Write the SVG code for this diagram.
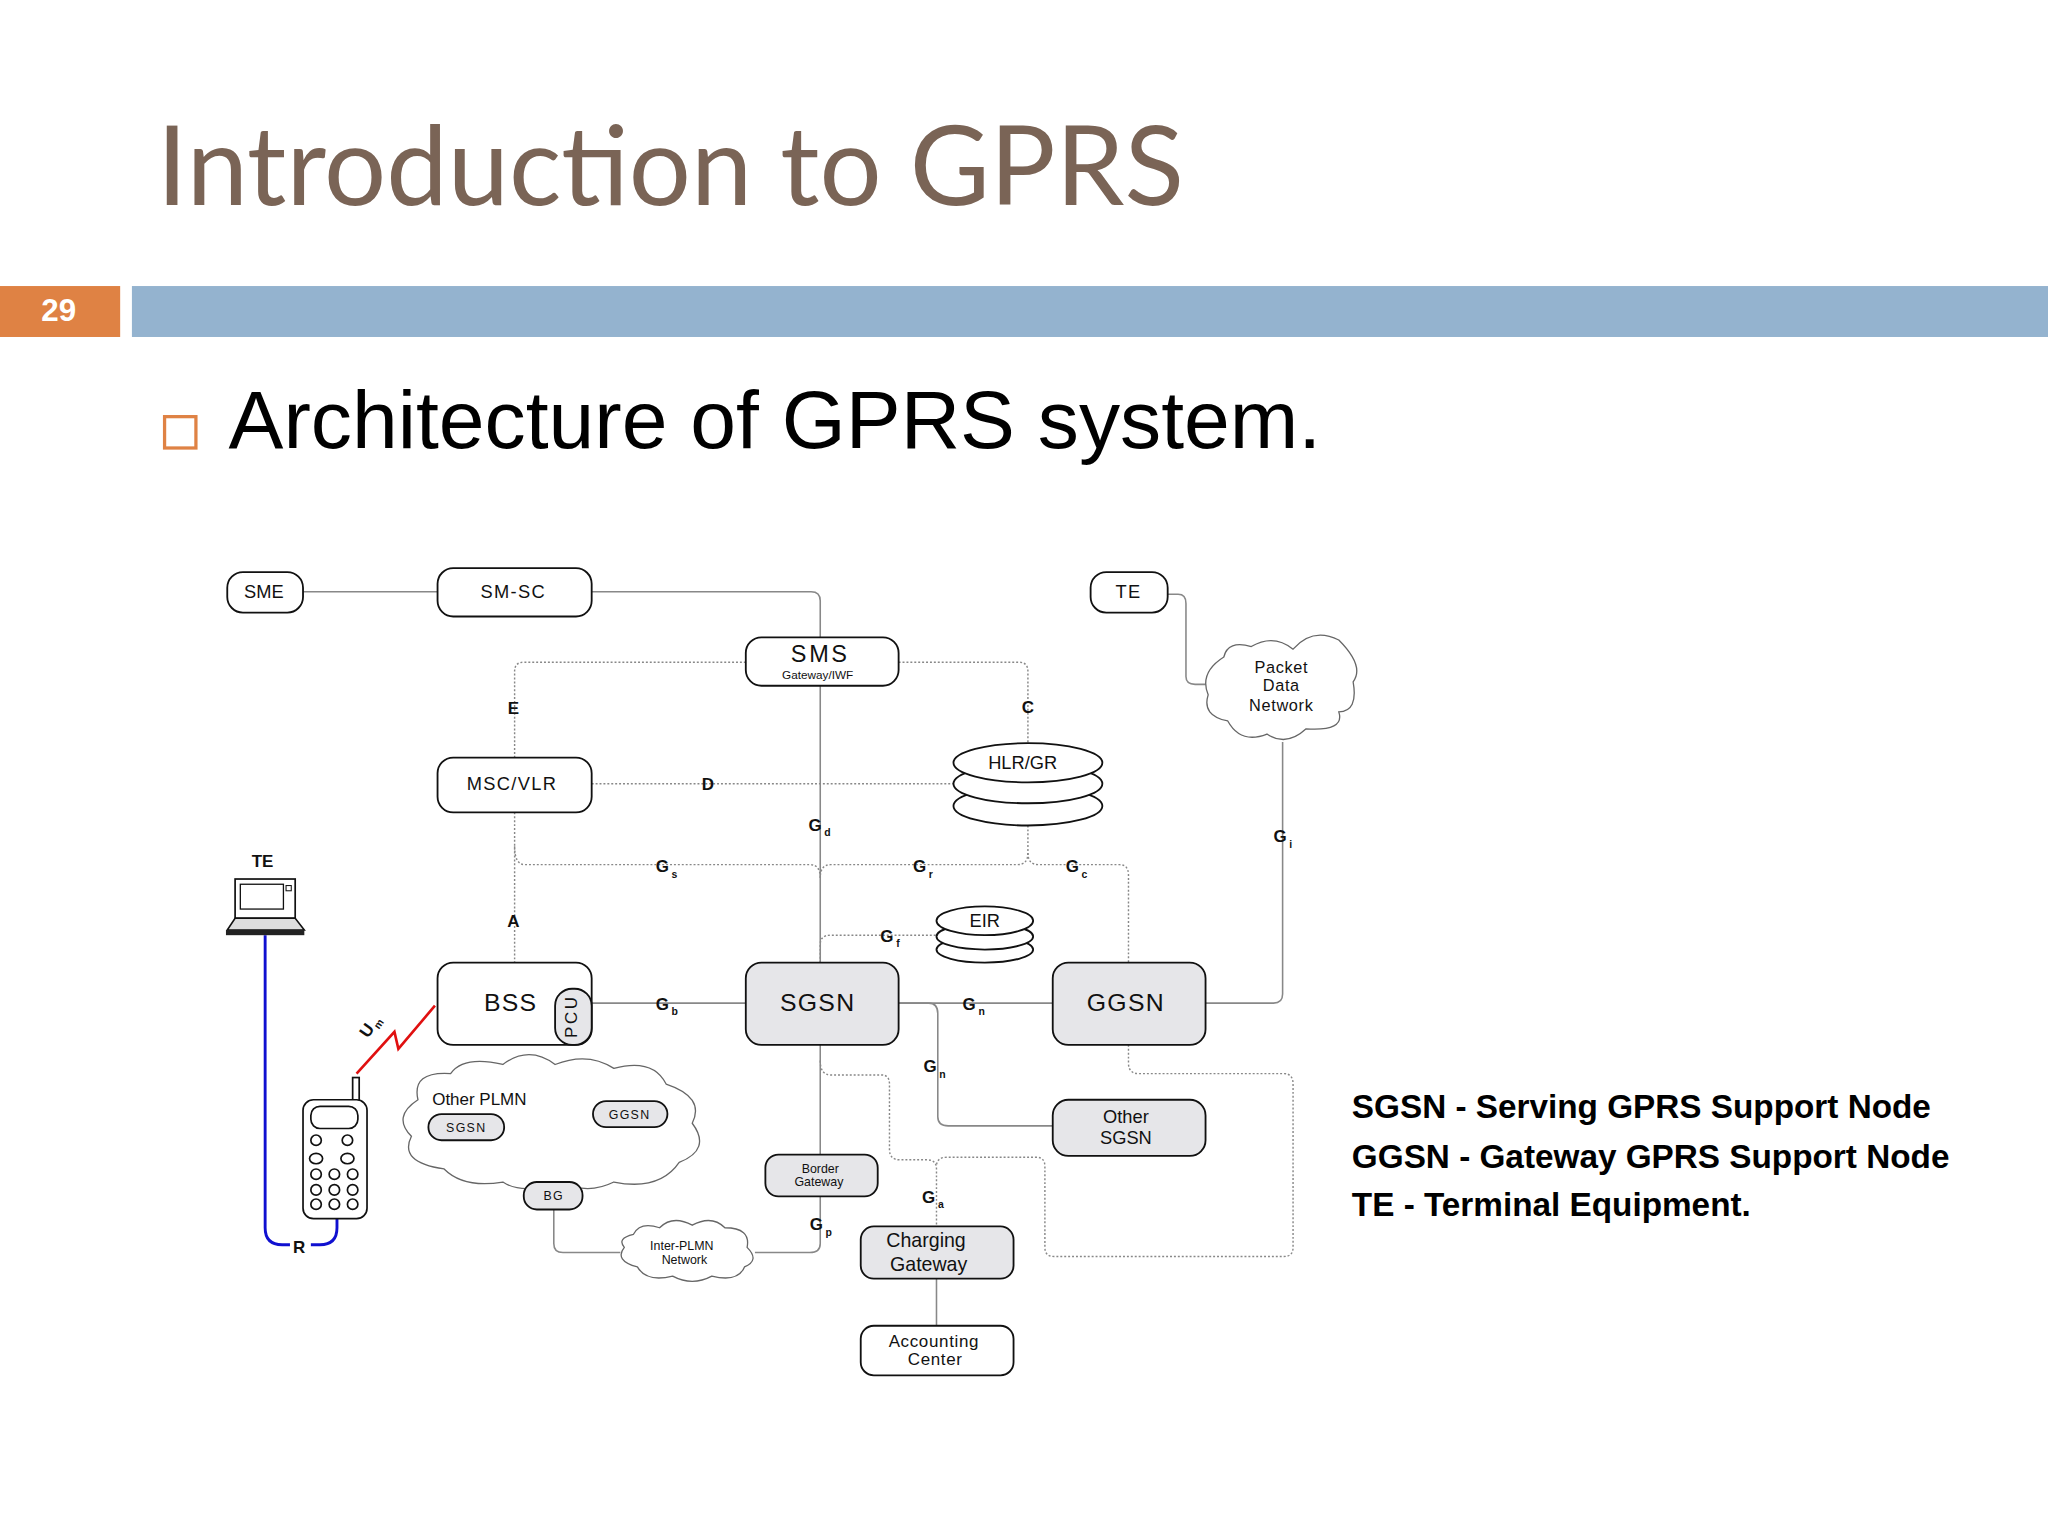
<svg xmlns="http://www.w3.org/2000/svg" width="2048" height="1536" viewBox="0 0 2048 1536">
<style>
.n{fill:#fff;stroke:#111;stroke-width:1.4}
.g{fill:#e6e6e9;stroke:#111;stroke-width:1.4}
.t{font-family:"Liberation Sans",Arial,sans-serif;fill:#111;text-anchor:middle}
.l{font-family:"Liberation Sans",Arial,sans-serif;font-weight:bold;font-size:13px;fill:#111;text-anchor:middle}
.gl{font-family:"Liberation Sans",Arial,sans-serif;font-weight:bold;font-size:13px;fill:#111}
.gl tspan{font-size:8px}
.s{fill:none;stroke:#888;stroke-width:1.2}
.d{fill:none;stroke:#888;stroke-width:1.1;stroke-dasharray:1.5 1.5}
.c{fill:#fff;stroke:#666;stroke-width:1}
</style>
<rect width="2048" height="1536" fill="#fff"/>
<g transform="scale(1.30612)">
<g id="header">
<text x="120" y="157" font-family="Lato,'Open Sans',sans-serif" font-size="84" fill="#7a6456">Introduction to GPRS</text>
<rect x="0" y="219" width="92" height="39" fill="#df8244"/>
<text x="45" y="246" font-family="'Liberation Sans',sans-serif" font-weight="bold" font-size="24" fill="#fff" text-anchor="middle">29</text>
<rect x="101" y="219" width="1467" height="39" fill="#94b3cf"/>
<rect x="126" y="319" width="24" height="24" fill="none" stroke="#df8244" stroke-width="2.5"/>
<text x="175" y="343" font-family="'Liberation Sans',Arial,sans-serif" font-size="63" fill="#000">Architecture of GPRS system.</text>
</g>
<g id="connectors">
<path class="s" d="M232 453H335"/>
<path class="s" d="M453 453H621Q628 453 628 460V488"/>
<path class="s" d="M628 525V737"/>
<path class="s" d="M894 455H902Q908 455 908 462V518Q908 524 915 524H930"/>
<path class="s" d="M982 568V761Q982 768 975 768H923"/>
<path class="s" d="M453 768H571"/>
<path class="s" d="M688 768H806"/>
<path class="s" d="M688 768H711Q718 768 718 776V855Q718 862 726 862H806"/>
<path class="s" d="M628 800V884"/>
<path class="s" d="M628 916V952Q628 959 620 959H578"/>
<path class="s" d="M475 959H431Q424 959 424 952V926"/>
<path class="s" d="M386 863H417Q424 863 424 870V905"/>
<path class="s" d="M482 863V878Q482 885 475 885H431Q424 885 424 892"/>
<path class="s" d="M717 979V1015"/>
<path class="d" d="M571 507H401Q394 507 394 514V580"/>
<path class="d" d="M688 507H780Q787 507 787 514V570"/>
<path class="d" d="M453 600H730"/>
<path class="d" d="M394 622V737"/>
<path class="d" d="M394 648Q394 662 402 662H620Q628 662 628 672"/>
<path class="d" d="M787 632V653Q787 662 779 662H636Q628 662 628 672"/>
<path class="d" d="M787 653Q787 662 795 662H857Q864 662 864 670V737"/>
<path class="d" d="M628 737V723Q628 716 636 716H717"/>
<path class="d" d="M628 812Q628 823 636 823H675Q681 823 681 830V880Q681 888 689 888H710Q717 888 717 895V939"/>
<path class="d" d="M864 800V814Q864 822 872 822H983Q990 822 990 830V955Q990 962 983 962H807Q800 962 800 955V893Q800 886 793 886H725Q717 886 717 893"/>
<path d="M203 716V940Q203 953 216 953H222M238 953H245Q258 953 258 940V933" fill="none" stroke="#1010d0" stroke-width="2.2"/>
<path d="M273 822L302 790L305 803L333 770" fill="none" stroke="#e01010" stroke-width="2"/>
</g>
<g id="labels">
<text class="l" x="393" y="547">E</text>
<text class="l" x="787" y="546">C</text>
<text class="l" x="542" y="605">D</text>
<text class="l" x="393" y="710">A</text>
<text class="l" x="229" y="959">R</text>
<text class="gl" x="619" y="636">G<tspan dx="2" dy="4">d</tspan></text>
<text class="gl" x="502" y="668">G<tspan dx="2" dy="4">s</tspan></text>
<text class="gl" x="699" y="668">G<tspan dx="2" dy="4">r</tspan></text>
<text class="gl" x="816" y="668">G<tspan dx="2" dy="4">c</tspan></text>
<text class="gl" x="674" y="721">G<tspan dx="2" dy="4">f</tspan></text>
<text class="gl" x="975" y="645">G<tspan dx="2" dy="4">i</tspan></text>
<text class="gl" x="502" y="773">G<tspan dx="2" dy="4">b</tspan></text>
<text class="gl" x="737" y="773">G<tspan dx="2" dy="4">n</tspan></text>
<text class="gl" x="707" y="821">G<tspan dx="2" dy="4">n</tspan></text>
<text class="gl" x="706" y="921">G<tspan dx="2" dy="4">a</tspan></text>
<text class="gl" x="620" y="942">G<tspan dx="2" dy="4">p</tspan></text>
<text class="gl" x="276" y="792" transform="rotate(-55 282 788)">U<tspan dx="1" dy="3">m</tspan></text>
</g>
<g id="SME"><rect class="n" x="174" y="438" width="58" height="31" rx="12"/><text class="t" x="202" y="458" font-size="14">SME</text></g>
<g id="SMSC"><rect class="n" x="335" y="435" width="118" height="37" rx="12"/><text class="t" x="393" y="458" font-size="14" letter-spacing="1">SM-SC</text></g>
<g id="TE1"><rect class="n" x="835" y="438" width="59" height="31" rx="12"/><text class="t" x="864" y="458" font-size="14" letter-spacing="1">TE</text></g>
<g id="SMSGW"><rect class="n" x="571" y="488" width="117" height="37" rx="12"/><text class="t" x="628" y="507" font-size="18" letter-spacing="2">SMS</text><text class="t" x="626" y="520" font-size="9">Gateway/IWF</text></g>
<g id="MSC"><rect class="n" x="335" y="580" width="118" height="42" rx="12"/><text class="t" x="392" y="605" font-size="14" letter-spacing="1">MSC/VLR</text></g>
<g id="HLR"><ellipse class="n" cx="787" cy="617" rx="57" ry="15"/><ellipse class="n" cx="787" cy="600" rx="57" ry="15"/><ellipse class="n" cx="787" cy="584" rx="57" ry="15"/><text class="t" x="783" y="589" font-size="14">HLR/GR</text></g>
<g id="EIR"><ellipse class="n" cx="754" cy="727" rx="37" ry="10"/><ellipse class="n" cx="754" cy="717" rx="37" ry="10"/><ellipse class="n" cx="754" cy="705" rx="37" ry="11"/><text class="t" x="754" y="710" font-size="14">EIR</text></g>
<g id="PDN"><path class="c" d="M937 503Q940 490 958 495Q975 485 990 497Q1005 480 1025 490Q1045 510 1036 522Q1040 545 1025 545Q1030 560 1000 558Q985 572 970 562Q950 570 940 552Q920 548 925 532Q918 515 937 503Z"/><text class="t" x="981" y="515" font-size="12.5" letter-spacing="0.5">Packet</text><text class="t" x="981" y="529" font-size="12.5" letter-spacing="0.5">Data</text><text class="t" x="981" y="544" font-size="12.5" letter-spacing="0.5">Network</text></g>
<g id="BSS"><rect class="n" x="335" y="737" width="118" height="63" rx="12"/><text class="t" x="391" y="774" font-size="19" letter-spacing="1">BSS</text><rect class="g" x="425" y="757" width="28" height="43" rx="13"/><text class="t" x="439" y="781" font-size="13" letter-spacing="2" transform="rotate(-90 439 778)">PCU</text></g>
<g id="SGSN"><rect class="g" x="571" y="737" width="117" height="63" rx="12"/><text class="t" x="626" y="774" font-size="19" letter-spacing="1">SGSN</text></g>
<g id="GGSN"><rect class="g" x="806" y="737" width="117" height="63" rx="12"/><text class="t" x="862" y="774" font-size="19" letter-spacing="1">GGSN</text></g>
<g id="OtherSGSN"><rect class="g" x="806" y="842" width="117" height="43" rx="12"/><text class="t" x="862" y="860" font-size="14">Other</text><text class="t" x="862" y="876" font-size="14">SGSN</text></g>
<g id="OtherPLMN"><path class="c" d="M320 842Q315 820 345 822Q355 808 385 815Q405 800 425 815Q450 805 470 818Q500 810 510 830Q540 840 530 860Q545 880 520 890Q505 912 470 905Q450 915 430 905Q400 915 385 905Q355 910 340 895Q305 890 315 870Q300 855 320 842Z"/><text class="t" x="367" y="846" font-size="13">Other PLMN</text>
<rect class="g" x="328" y="853" width="58" height="20" rx="10"/><text class="t" x="357" y="867" font-size="9.5" letter-spacing="1">SGSN</text>
<rect class="g" x="454" y="843" width="57" height="20" rx="10"/><text class="t" x="482" y="857" font-size="9.5" letter-spacing="1">GGSN</text></g>
<g id="BG"><rect class="g" x="401" y="905" width="45" height="21" rx="10"/><text class="t" x="424" y="919" font-size="9.5" letter-spacing="1">BG</text></g>
<g id="InterPLMN"><path class="c" d="M485 945Q490 935 505 940Q515 930 530 938Q545 930 555 940Q575 940 572 955Q582 965 570 970Q565 982 545 977Q530 985 515 977Q495 982 488 970Q470 965 478 955Q472 948 485 945Z"/><text class="t" x="522" y="957" font-size="9.5">Inter-PLMN</text><text class="t" x="524" y="968" font-size="9.5">Network</text></g>
<g id="BorderGW"><rect class="g" x="586" y="884" width="86" height="32" rx="10"/><text class="t" x="628" y="898" font-size="9.5">Border</text><text class="t" x="627" y="908" font-size="9.5">Gateway</text></g>
<g id="ChargingGW"><rect class="g" x="659" y="939" width="117" height="40" rx="10"/><text class="t" x="709" y="955" font-size="15">Charging</text><text class="t" x="711" y="973" font-size="15">Gateway</text></g>
<g id="Accounting"><rect class="n" x="659" y="1015" width="117" height="38" rx="10"/><text class="t" x="715" y="1031" font-size="13" letter-spacing="0.5">Accounting</text><text class="t" x="716" y="1045" font-size="13" letter-spacing="0.5">Center</text></g>
<g id="TE2"><text class="l" x="201" y="664" font-size="13">TE</text>
<rect x="180" y="673" width="46" height="30" fill="#fff" stroke="#111" stroke-width="1.3"/><rect x="184" y="677" width="33" height="19" fill="#fff" stroke="#111"/><rect x="219" y="678" width="4" height="4" fill="none" stroke="#111" stroke-width="0.8"/><path d="M180 703L174 712H233L226 703Z" fill="#ddd" stroke="#111" stroke-width="1.2"/><rect x="173" y="712" width="60" height="4" fill="#222"/></g>
<g id="Phone" fill="none" stroke="#111" stroke-width="1.3"><rect x="270" y="825" width="5" height="22" fill="#fff"/><rect x="232" y="842" width="49" height="91" rx="8" fill="#fff"/><rect x="238" y="847" width="36" height="17" rx="7"/>
<circle cx="242" cy="873" r="4"/><circle cx="266" cy="873" r="4"/><ellipse cx="242" cy="887" rx="5" ry="4"/><ellipse cx="266" cy="887" rx="5" ry="4"/>
<circle cx="242" cy="899" r="4"/><circle cx="256" cy="899" r="4"/><circle cx="270" cy="899" r="4"/><circle cx="242" cy="911" r="4"/><circle cx="256" cy="911" r="4"/><circle cx="270" cy="911" r="4"/><circle cx="242" cy="922" r="4"/><circle cx="256" cy="922" r="4"/><circle cx="270" cy="922" r="4"/></g>
<g id="legend" font-family="'Liberation Sans',Arial,sans-serif" font-weight="bold" font-size="25.5" fill="#000"><text x="1035" y="856">SGSN - Serving GPRS Support Node</text><text x="1035" y="894">GGSN - Gateway GPRS Support Node</text><text x="1035" y="931">TE - Terminal Equipment.</text></g>
</g>
</svg>
